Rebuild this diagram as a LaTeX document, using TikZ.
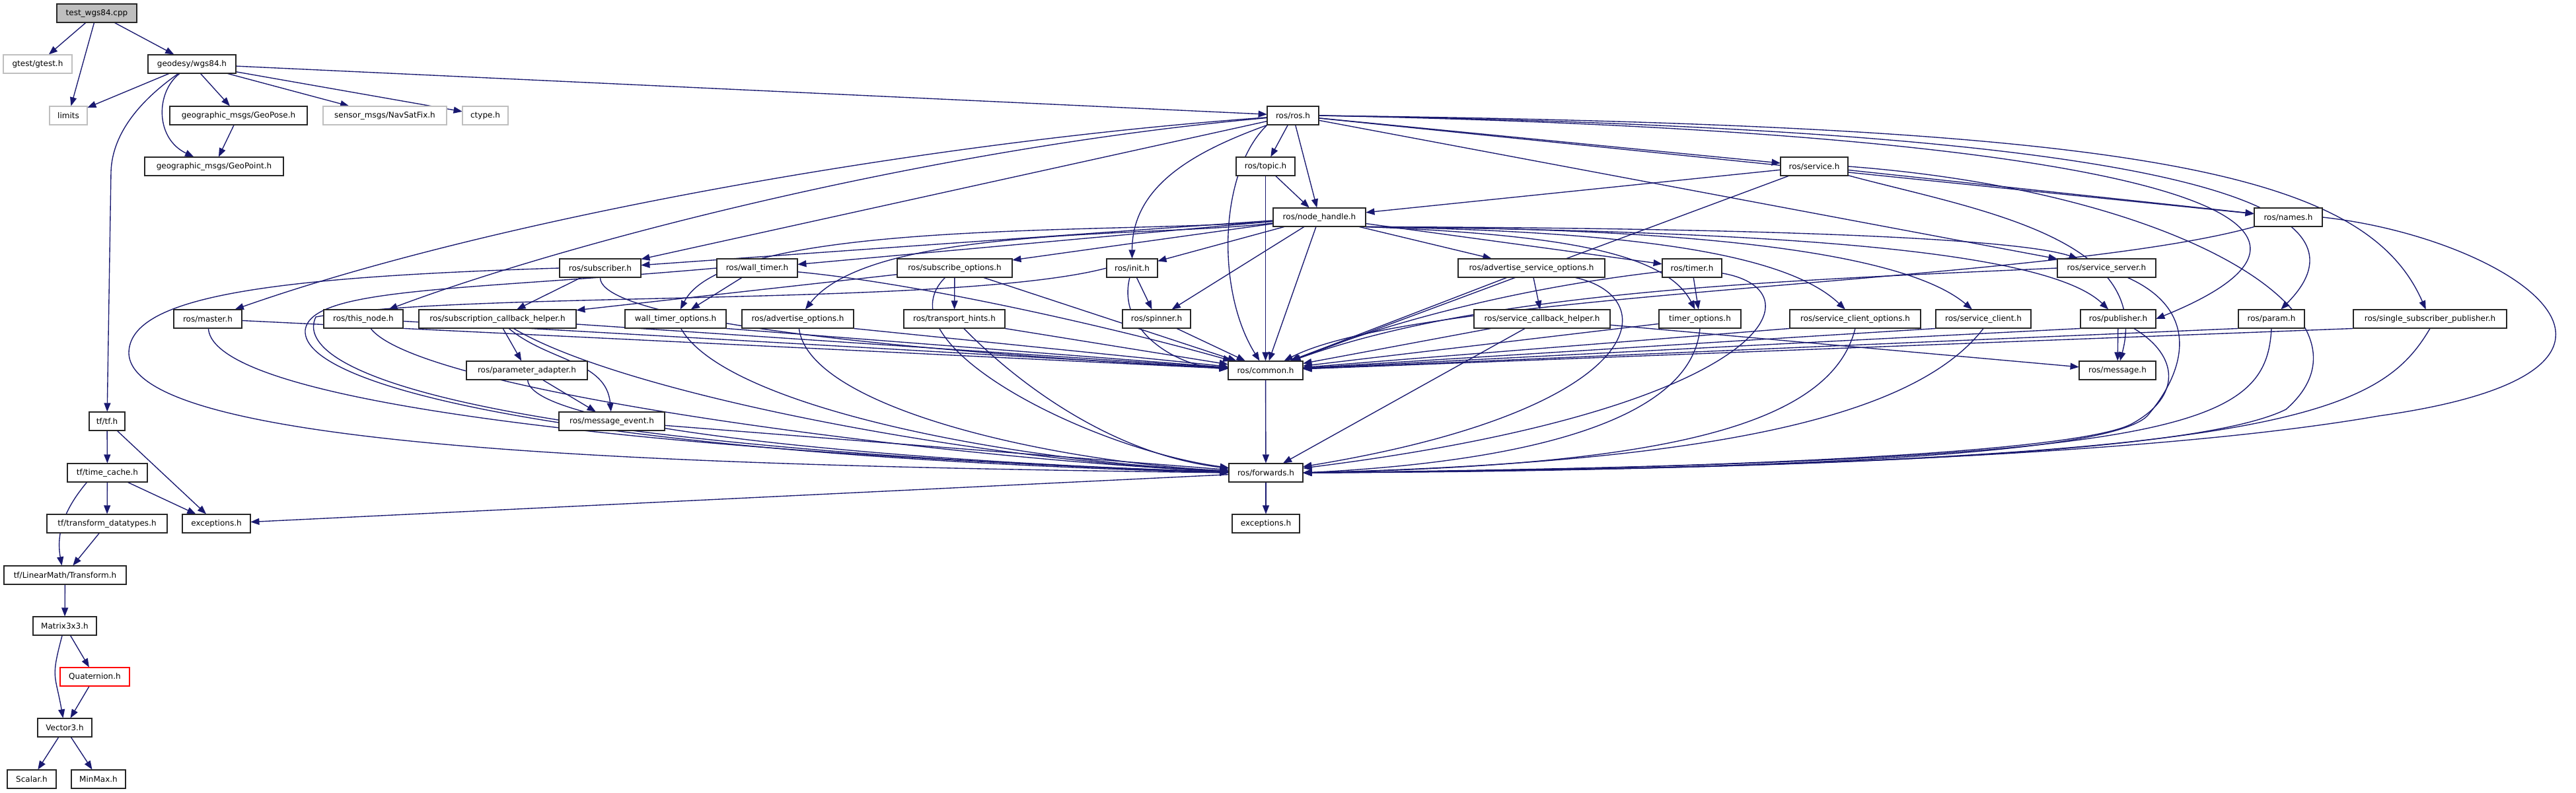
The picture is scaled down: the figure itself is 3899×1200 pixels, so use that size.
\documentclass[tikz,border=0pt]{standalone}
\usepackage{fontspec}
\setmainfont{DejaVu Sans}
\usetikzlibrary{arrows.meta}
\definecolor{edgeblue}{HTML}{191970}
\definecolor{missgrey}{HTML}{BFBFBF}
\pgfdeclarelayer{bg}
\pgfsetlayers{bg,main}

\begin{document}
\begin{tikzpicture}[x=1pt, y=1pt, scale=0.25,
    hdr/.style={transform shape, draw=black!85, line width=0.45pt, fill=white, inner sep=0pt, minimum height=28.5pt, font=\fontsize{12}{14}\selectfont},
    hdrmiss/.style={hdr, draw=missgrey},
    hdrroot/.style={hdr, fill=missgrey},
    hdrbad/.style={hdr, draw=red},
    incl/.style={draw=edgeblue, line width=0.34pt, -{Triangle[length=3.3pt,width=2.5pt]}}]
  \useasboundingbox (0,0) rectangle (3899,-1200);

  % top rows
  \node[hdrroot, minimum width=121pt] (test) at (146.5,-20) {test\_wgs84.cpp};
  \node[hdrmiss, minimum width=104pt] (gtest) at (57,-97) {gtest/gtest.h};
  \node[hdr, minimum width=133pt] (wgs) at (290.5,-97) {geodesy/wgs84.h};
  \node[hdrmiss, minimum width=57pt] (limits) at (103.5,-175) {limits};
  \node[hdr, minimum width=208pt] (geopose) at (361,-175) {geographic\_msgs/GeoPose.h};
  \node[hdrmiss, minimum width=187pt] (navsat) at (582.5,-175) {sensor\_msgs/NavSatFix.h};
  \node[hdrmiss, minimum width=69pt] (ctype) at (734.5,-175) {ctype.h};
  \node[hdr, minimum width=210pt] (geopoint) at (324,-252) {geographic\_msgs/GeoPoint.h};
  \node[hdr, minimum width=78pt] (rosh) at (1957,-175) {ros/ros.h};
  \node[hdr, minimum width=89pt] (topic) at (1915.5,-252) {ros/topic.h};
  \node[hdr, minimum width=102pt] (service) at (2746,-252) {ros/service.h};
  \node[hdr, minimum width=140pt] (nh) at (1997,-329) {ros/node\_handle.h};
  \node[hdr, minimum width=103pt] (names) at (3463.5,-329) {ros/names.h};

  % row 5
  \node[hdr, minimum width=123pt] (subscriber) at (908.5,-406) {ros/subscriber.h};
  \node[hdr, minimum width=122pt] (walltimer) at (1146,-406) {ros/wall\_timer.h};
  \node[hdr, minimum width=174pt] (subopts) at (1445,-406) {ros/subscribe\_options.h};
  \node[hdr, minimum width=77pt] (init) at (1713.5,-406) {ros/init.h};
  \node[hdr, minimum width=222pt] (advsrvopts) at (2318,-406) {ros/advertise\_service\_options.h};
  \node[hdr, minimum width=90pt] (timer) at (2561,-406) {ros/timer.h};
  \node[hdr, minimum width=149pt] (srvserver) at (3188.5,-406) {ros/service\_server.h};

  % row 6
  \node[hdr, minimum width=103pt] (master) at (314.5,-483) {ros/master.h};
  \node[hdr, minimum width=120pt] (thisnode) at (550,-483) {ros/this\_node.h};
  \node[hdr, minimum width=238pt] (subcbhelper) at (753,-483) {ros/subscription\_callback\_helper.h};
  \node[hdr, minimum width=153pt] (walltimeropts) at (1022.5,-483) {wall\_timer\_options.h};
  \node[hdr, minimum width=169pt] (advopts) at (1207.5,-483) {ros/advertise\_options.h};
  \node[hdr, minimum width=153pt] (transport) at (1444.5,-483) {ros/transport\_hints.h};
  \node[hdr, minimum width=103pt] (spinner) at (1750.5,-483) {ros/spinner.h};
  \node[hdr, minimum width=206pt] (srvcbhelper) at (2334,-483) {ros/service\_callback\_helper.h};
  \node[hdr, minimum width=124pt] (timeropts) at (2573,-483) {timer\_options.h};
  \node[hdr, minimum width=198pt] (srvclientopts) at (2808,-483) {ros/service\_client\_options.h};
  \node[hdr, minimum width=144pt] (srvclient) at (3002,-483) {ros/service\_client.h};
  \node[hdr, minimum width=114pt] (publisher) at (3206,-483) {ros/publisher.h};
  \node[hdr, minimum width=100pt] (param) at (3438,-483) {ros/param.h};
  \node[hdr, minimum width=232pt] (ssp) at (3678,-483) {ros/single\_subscriber\_publisher.h};

  % lower rows
  \node[hdr, minimum width=183pt] (paramadapter) at (797.5,-561) {ros/parameter\_adapter.h};
  \node[hdr, minimum width=113pt] (common) at (1915.5,-561) {ros/common.h};
  \node[hdr, minimum width=116pt] (message) at (3205,-561) {ros/message.h};
  \node[hdr, minimum width=160pt] (msgevent) at (926,-638) {ros/message\_event.h};
  \node[hdr, minimum width=54pt] (tfh) at (162,-638) {tf/tf.h};
  \node[hdr, minimum width=112pt] (forwards) at (1916,-716) {ros/forwards.h};
  \node[hdr, minimum width=121pt] (timecache) at (162.5,-716) {tf/time\_cache.h};
  \node[hdr, minimum width=182pt] (transformdt) at (162,-793) {tf/transform\_datatypes.h};
  \node[hdr, minimum width=103pt] (tfexc) at (327.5,-793) {exceptions.h};
  \node[hdr, minimum width=102pt] (rosexc) at (1916,-793) {exceptions.h};
  \node[hdr, minimum width=185pt] (transform) at (98.5,-871) {tf/LinearMath/Transform.h};
  \node[hdr, minimum width=96pt] (matrix) at (98,-948) {Matrix3x3.h};
  \node[hdrbad, minimum width=105pt] (quat) at (143.5,-1025) {Quaternion.h};
  \node[hdr, minimum width=82pt] (vector) at (98,-1102) {Vector3.h};
  \node[hdr, minimum width=74pt] (scalar) at (48,-1180) {Scalar.h};
  \node[hdr, minimum width=82pt] (minmax) at (149,-1180) {MinMax.h};

  \begin{pgfonlayer}{bg}
  \fill[white] (0,0) rectangle (3899,-1200);

  % geodesy and tf
  \draw[incl] (test) -- (gtest);
  \draw[incl] (test) -- (limits);
  \draw[incl] (test) -- (wgs);
  \draw[incl] (wgs) -- (limits);
  \draw[incl] (wgs) -- (geopose);
  \draw[incl] (wgs) -- (navsat);
  \draw[incl] (wgs) -- (ctype);
  \draw[incl] (wgs) .. controls (235,-140) and (235,-210) .. (geopoint);
  \draw[incl] (wgs) -- (rosh);
  \draw[incl] (wgs) .. controls (215,-150) and (170,-200) .. (168,-260) -- (tfh);
  \draw[incl] (geopose) -- (geopoint);
  \draw[incl] (tfh) -- (timecache);
  \draw[incl] (tfh) -- (tfexc);
  \draw[incl] (timecache) -- (transformdt);
  \draw[incl] (timecache) -- (tfexc);
  \draw[incl] (timecache.-155) to[out=-130,in=100] ([xshift=-5pt]transform.north);
  \draw[incl] (transformdt) -- (transform);
  \draw[incl] (transform) -- (matrix);
  \draw[incl] (matrix) -- (quat);
  \draw[incl] (matrix) to[out=-105,in=100,looseness=1.4] (vector);
  \draw[incl] (quat) -- (vector);
  \draw[incl] (vector) -- (scalar);
  \draw[incl] (vector) -- (minmax);

  % ros.h
  \draw[incl] (rosh) -- (topic);
  \draw[incl] (rosh) -- (nh);
  \draw[incl] (rosh.south west) .. controls (1845,-260) and (1840,-440) .. (common);
  \draw[incl] (rosh.south west) to[out=-160,in=90] (init);
  \draw[incl] (rosh) .. controls (1400,-215) and (750,-330) .. (master);
  \draw[incl] (rosh) .. controls (1400,-225) and (850,-370) .. (thisnode);
  \draw[incl] (rosh) -- (subscriber);
  \draw[incl] (rosh) -- (service);
  \draw[incl] (rosh) -- (names);
  \draw[incl] (rosh) -- (srvserver);
  \draw[incl] (rosh.east) .. controls (3250,-195) and (3620,-300) .. (param);
  \draw[incl] (rosh.east) .. controls (3250,-190) and (3580,-260) .. (ssp);
  \draw[incl] (rosh.east) .. controls (3250,-200) and (3640,-330) .. (publisher.east);
  \draw[incl] (topic) -- (nh);
  \draw[incl] (topic) -- (common);
  \draw[incl] (service) -- (nh);
  \draw[incl] (service) -- (common);
  \draw[incl] (service) -- (names);
  \draw[incl] (service) to[out=-15,in=75] (message);
  \draw[incl] (service.east) .. controls (3300,-290) and (3620,-480) .. (3460,-620)
    .. controls (3300,-700) and (2500,-712) .. (forwards.east);

  % node_handle.h
  \draw[incl] (nh) -- (subscriber);
  \draw[incl] (nh) -- (walltimer);
  \draw[incl] (nh) -- (subopts);
  \draw[incl] (nh) -- (init);
  \draw[incl] (nh) -- (spinner);
  \draw[incl] (nh) -- (common);
  \draw[incl] (nh) .. controls (1700,-355) and (1100,-330) .. (walltimeropts);
  \draw[incl] (nh) .. controls (1750,-360) and (1320,-340) .. (advopts);
  \draw[incl] (nh) -- (advsrvopts);
  \draw[incl] (nh) -- (timer);
  \draw[incl] (nh.south east) .. controls (2350,-355) and (2520,-380) .. (timeropts);
  \draw[incl] (nh.south east) .. controls (2450,-350) and (2700,-380) .. (srvclientopts);
  \draw[incl] (nh.south east) .. controls (2550,-345) and (2880,-380) .. (srvclient);
  \draw[incl] (nh.south east) .. controls (2650,-345) and (3050,-360) .. (srvserver);
  \draw[incl] (nh.south east) .. controls (2700,-350) and (3100,-380) .. (publisher);

  % row 5
  \draw[incl] (subscriber) -- (subcbhelper);
  \draw[incl] (subscriber) .. controls (908,-510) and (1750,-552) .. (common);
  \draw[incl] (subscriber.west) .. controls (400,-420) and (195,-450) .. (195,-535)
    .. controls (200,-680) and (1000,-705) .. (forwards.west);
  \draw[incl] (walltimer) -- (walltimeropts);
  \draw[incl] (walltimer) .. controls (1400,-430) and (1700,-500) .. (common);
  \draw[incl] (walltimer.west) .. controls (700,-440) and (470,-435) .. (462,-500)
    .. controls (455,-590) and (900,-690) .. (forwards.west);
  \draw[incl] (subopts) -- (subcbhelper);
  \draw[incl] (subopts) -- (transport);
  \draw[incl] (subopts) -- (common);
  \draw[incl] (subopts) .. controls (1330,-520) and (1650,-680) .. (forwards);
  \draw[incl] (init) -- (spinner);
  \draw[incl] (init) .. controls (1690,-500) and (1780,-555) .. (common);
  \draw[incl] (init.west) .. controls (1450,-465) and (700,-440) .. (478,-480)
    .. controls (440,-560) and (700,-675) .. (forwards.west);
  \draw[incl] (advsrvopts) -- (srvcbhelper);
  \draw[incl] (advsrvopts) -- (common);
  \draw[incl] (advsrvopts) .. controls (2520,-450) and (2500,-620) .. (forwards);
  \draw[incl] (timer) -- (timeropts);
  \draw[incl] (timer) .. controls (2350,-430) and (2150,-470) .. (common);
  \draw[incl] (timer) .. controls (2760,-440) and (2680,-620) .. (forwards);
  \draw[incl] (srvserver.west) .. controls (2700,-425) and (2250,-440) .. (common);
  \draw[incl] (srvserver) .. controls (3330,-470) and (3310,-560) .. (3250,-630)
    .. controls (3180,-700) and (2500,-712) .. (forwards.east);

  % row 6
  \draw[incl] (master) -- (common);
  \draw[incl] (master) .. controls (325,-650) and (1500,-705) .. (forwards);
  \draw[incl] (thisnode) -- (common);
  \draw[incl] (thisnode) .. controls (640,-600) and (1500,-700) .. (forwards);
  \draw[incl] (subcbhelper) -- (paramadapter);
  \draw[incl] (subcbhelper) to[out=-40,in=95] (msgevent);
  \draw[incl] (subcbhelper) -- (common);
  \draw[incl] (subcbhelper) .. controls (950,-600) and (1500,-700) .. (forwards);
  \draw[incl] (walltimeropts.south east) -- (common);
  \draw[incl] (walltimeropts) .. controls (1100,-620) and (1550,-700) .. (forwards);
  \draw[incl] (advopts.south east) -- (common);
  \draw[incl] (advopts) .. controls (1225,-620) and (1600,-700) .. (forwards);
  \draw[incl] (transport.south east) -- (common);
  \draw[incl] (transport) .. controls (1560,-600) and (1700,-690) .. (forwards);
  \draw[incl] (spinner) -- (common);
  \draw[incl] (srvcbhelper) -- (common);
  \draw[incl] (srvcbhelper) -- (forwards);
  \draw[incl] (srvcbhelper) -- (message);
  \draw[incl] (timeropts) -- (common);
  \draw[incl] (timeropts.south) .. controls (2560,-640) and (2300,-700) .. (forwards.east);
  \draw[incl] (srvclientopts.south west) -- (common);
  \draw[incl] (srvclientopts.south) .. controls (2770,-650) and (2500,-705) .. (forwards.east);
  \draw[incl] (srvclient.south west) -- (common);
  \draw[incl] (srvclient.south) .. controls (2900,-630) and (2600,-700) .. (forwards.east);
  \draw[incl] (publisher) -- (message);
  \draw[incl] (publisher.south west) -- (common);
  \draw[incl] (publisher) .. controls (3300,-540) and (3300,-600) .. (3230,-640)
    .. controls (3150,-690) and (2500,-712) .. (forwards.east);
  \draw[incl] (param.south west) -- (common);
  \draw[incl] (param.south) .. controls (3430,-650) and (3300,-700) .. (forwards.east);
  \draw[incl] (ssp.south west) -- (common);
  \draw[incl] (ssp.south) .. controls (3600,-630) and (3450,-705) .. (forwards.east);
  \draw[incl] (names.south west) .. controls (3100,-430) and (2150,-440) .. (common);
  \draw[incl] (names.east) .. controls (3800,-360) and (4100,-560) .. (3600,-630)
    .. controls (3200,-700) and (2400,-715) .. (forwards.east);

  % bottom
  \draw[incl] (paramadapter) -- (msgevent);
  \draw[incl] (paramadapter) .. controls (805,-660) and (1500,-705) .. (forwards);
  \draw[incl] (msgevent) -- (forwards);
  \draw[incl] (common) -- (forwards);
  \draw[incl] (forwards) -- (rosexc);
  \draw[incl] (forwards) -- (tfexc);
  \end{pgfonlayer}
\end{tikzpicture}
\end{document}
